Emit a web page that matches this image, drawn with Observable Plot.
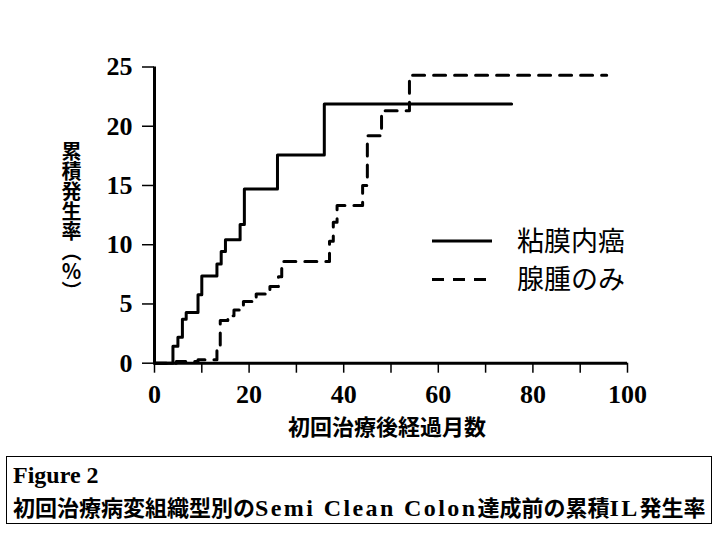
<!DOCTYPE html>
<html><head><meta charset="utf-8">
<script src="https://cdn.jsdelivr.net/npm/d3@7"></script>
<script src="https://cdn.jsdelivr.net/npm/@observablehq/plot@0.6"></script>
<style>
body{margin:0;background:#fff;}
#wrap{position:relative;width:720px;height:540px;overflow:hidden;background:#fff;}
#chart{position:absolute;left:0;top:0;}
#caption{position:absolute;left:6px;top:456px;width:706px;height:68px;border:1.5px solid #000;box-sizing:border-box;}
#cap1{position:absolute;left:6px;top:6px;font-family:"Liberation Serif",serif;font-weight:bold;font-size:24px;line-height:24px;white-space:nowrap;}
#cap2{position:absolute;left:6px;top:36px;font-weight:bold;font-size:22px;line-height:26px;white-space:nowrap;}
#cap2 .cjk{font-family:"Noto Sans CJK JP",sans-serif;font-size:22px;}
#cap2 .lat{font-family:"Liberation Serif",serif;font-size:24px;letter-spacing:2.4px;}
</style></head><body>
<div id="wrap"><div id="chart"></div><div id="caption"><div id="cap1"></div><div id="cap2"></div></div></div>
<script>
// ---- data ----
const seriesNames = ["粘膜内癌", "腺腫のみ"];
const monthsMucosal = [0, 3.9, 4.95, 5.9, 6.7, 9.2, 10.0, 13.2, 14.1, 15.0, 18.1, 19.0, 26.0, 35.9, 75.5];
const rateMucosal   = [0, 1.43, 2.2, 3.7, 4.27, 5.77, 7.37, 8.38, 9.42, 10.43, 11.7, 14.7, 17.57, 21.87, 21.87];
const monthsAdenoma = [0, 4.6, 9.2, 13.2, 13.9, 15.5, 16.8, 18.8, 21.5, 24.4, 26.2, 26.9, 37.0, 37.8, 38.6, 44.0, 45.0, 48.0, 53.9, 95.6];
const rateAdenoma   = [0, 0.15, 0.3, 1.1, 3.6, 4.0, 4.5, 5.2, 5.85, 6.47, 7.3, 8.58, 10.3, 11.9, 13.3, 15.0, 19.2, 21.3, 24.3, 24.3];
const xTicks = [0, 10, 20, 30, 40, 50, 60, 70, 80, 90, 100];
const xTickLabels = [0, 20, 40, 60, 80, 100];
const yTicks = [0, 5, 10, 15, 20, 25];
const xTitle = "初回治療後経過月数";
const yTitle = "累積発生率（％）";
const figLabel = "Figure 2";
const captionParts = [["初回治療病変組織型別の", "cjk"], ["Semi Clean Colon", "lat"], ["達成前の累積", "cjk"], ["IL", "lat"], ["発生率", "cjk"]];

const mucosal = monthsMucosal.map((m, i) => ({series: seriesNames[0], month: m, rate: rateMucosal[i]}));
const adenoma = monthsAdenoma.map((m, i) => ({series: seriesNames[1], month: m, rate: rateAdenoma[i]}));

const W = 720, H = 440;
const plot = Plot.plot({
  width: W, height: H,
  marginLeft: 154, marginRight: 93, marginTop: 66.5, marginBottom: 77.3,
  x: {domain: [0, 100]},
  y: {domain: [0, 25]},
  style: {fontFamily: "'Liberation Serif', serif", fontWeight: "bold", fontSize: "26px", color: "#000", background: "#fff", overflow: "visible"},
  marks: [
    Plot.axisX({ticks: xTicks, tickSize: 10, tickPadding: 11, strokeWidth: 1.5, label: null,
      tickFormat: d => xTickLabels.includes(d) ? String(d) : ""}),
    Plot.axisY({ticks: yTicks, tickSize: 12, tickPadding: 10, strokeWidth: 1.5, label: null}),
    Plot.text([xTitle], {frameAnchor: "bottom", dy: 65, dx: -4, lineAnchor: "middle",
      fontFamily: "'Noto Sans CJK JP', sans-serif", fontWeight: "bold", fontSize: 22}),
    Plot.text([yTitle], {frameAnchor: "left", dx: -83, textAnchor: "middle", lineAnchor: "middle",
      fontFamily: "'Noto Sans CJK JP', sans-serif", fontWeight: "bold", fontSize: 20}),
    Plot.line(mucosal, {x: "month", y: "rate", curve: "step-after", stroke: "#000", strokeWidth: 3}),
    Plot.line(adenoma, {x: "month", y: "rate", curve: "step-after", stroke: "#000", strokeWidth: 3, strokeDasharray: "12,9"}),
    Plot.ruleY([0], {stroke: "#000", strokeWidth: 3}),
    Plot.ruleX([0], {stroke: "#000", strokeWidth: 3})
  ]
});
document.getElementById("chart").appendChild(plot);

// vertical y-axis title
const svg = d3.select(plot);
svg.selectAll("text").filter(function() { return this.textContent === yTitle; })
  .attr("dy", null)
  .attr("text-anchor", "middle")
  .style("writing-mode", "vertical-rl");

// legend
const legendStyles = [null, "12,9"];
const lg = svg.append("g").attr("class", "legend").attr("text-anchor", "start");
seriesNames.forEach((name, i) => {
  const y = 241 + i * 38.5;
  lg.append("line").attr("x1", 432).attr("x2", 492).attr("y1", y).attr("y2", y)
    .attr("stroke", "#000").attr("stroke-width", 3).attr("stroke-dasharray", legendStyles[i]);
  lg.append("text").attr("x", 517).attr("y", y).attr("dy", "0.36em").attr("text-anchor", "start")
    .attr("font-family", "'Noto Sans CJK JP', sans-serif").attr("font-weight", "normal")
    .attr("font-size", 27).text(name);
});

// caption
document.getElementById("cap1").textContent = figLabel;
const cap2 = d3.select("#cap2");
captionParts.forEach(([t, k]) => cap2.append("span").attr("class", k).text(t));
</script>
</body></html>
